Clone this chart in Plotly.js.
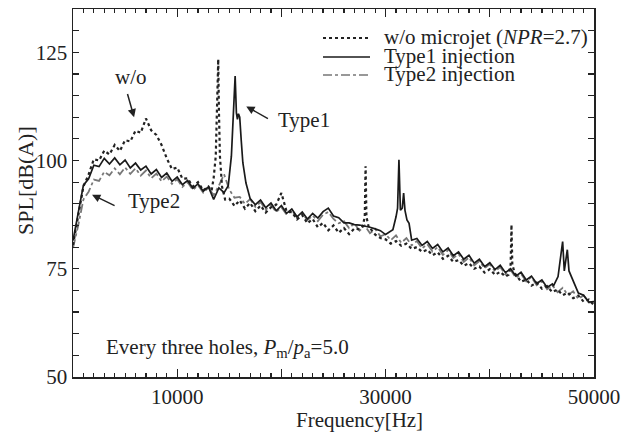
<!DOCTYPE html>
<html>
<head>
<meta charset="utf-8">
<script src="https://cdn.plot.ly/plotly-3.0.1.min.js"></script>
<style>html,body{margin:0;padding:0;background:#fff;}#chart{width:635px;height:437px;}</style>
</head>
<body>
<div id="chart"></div>
<script>
// Frequency grid [Hz]
const freq = [0,500,1000,1500,2000,2500,3000,3500,4000,4500,5000,5500,6000,6500,7000,7500,8000,8500,9000,9500,
10000,10500,11000,11500,12000,12500,13000,13500,14000,14500,15000,15500,16000,16500,17000,17500,18000,18500,19000,19500,
20000,20500,21000,21500,22000,22500,23000,23500,24000,24500,25000,25500,26000,26500,27000,27500,28000,28500,29000,29500,
30000,30500,31000,31500,32000,32500,33000,33500,34000,34500,35000,35500,36000,36500,37000,37500,38000,38500,39000,39500,
40000,40500,41000,41500,42000,42500,43000,43500,44000,44500,45000,45500,46000,46500,47000,47500,48000,48500,49000,49500,50000];

// w/o microjet (NPR=2.7)  SPL [dB(A)]
const splWo = [80.5,87.0,94.0,96.8,100.3,100.0,102.3,101.4,103.6,102.2,104.7,104.4,106.9,106.4,109.7,107.0,105.9,103.6,100.5,98.0,
98.4,95.8,95.9,94.0,95.0,93.1,94.0,93.0,93.0,91.5,91.2,89.5,90.8,88.9,90.2,88.3,89.6,88.0,89.2,89.8,
92.5,88.2,88.1,86.4,87.4,85.5,86.5,84.6,85.6,83.9,85.0,83.3,84.4,83.0,84.3,84.1,85.0,84.4,82.9,82.1,
81.8,80.8,81.4,80.3,80.8,79.6,80.0,78.9,79.4,78.1,78.8,77.3,78.0,76.6,77.0,75.7,76.3,75.0,75.5,74.1,
74.9,73.6,74.3,73.2,74.5,73.7,72.0,72.5,71.1,71.8,70.4,71.0,69.6,70.2,68.9,69.5,68.2,68.8,67.4,67.9,66.6];

// Type1 injection
const splT1 = [81.5,88.0,94.3,95.8,98.9,98.6,100.5,99.2,100.6,99.0,100.1,98.3,99.4,97.8,98.7,96.9,97.9,96.1,97.1,95.2,
96.2,94.4,95.4,93.6,94.6,92.9,93.9,91.0,93.7,92.6,94.0,94.0,94.0,94.0,91.2,89.8,90.9,89.1,90.2,88.4,
89.6,87.8,88.8,87.0,88.1,86.5,87.8,86.7,88.2,89.0,87.2,86.8,85.6,85.6,85.2,85.1,84.9,84.6,84.2,83.8,
82.9,83.8,84.0,84.0,84.0,81.6,82.0,80.4,81.3,79.7,80.6,78.9,79.8,78.0,78.9,77.2,78.1,76.3,77.2,75.5,
76.4,74.8,75.8,74.1,75.0,73.3,74.2,72.4,73.3,71.6,72.4,70.7,71.5,71.0,71.0,71.0,71.0,69.4,68.9,67.3,67.4];

// Type2 injection
const splT2 = [79.8,85.0,91.0,92.8,95.6,95.3,97.4,96.6,98.2,96.8,98.4,96.9,98.2,96.5,97.7,95.9,97.0,95.2,96.3,94.6,
95.7,93.9,95.0,93.2,94.3,92.6,93.7,92.0,94.2,96.8,93.3,91.4,91.6,90.0,91.1,89.3,90.4,88.6,89.8,88.1,
89.2,87.5,88.5,86.8,87.8,86.2,87.3,86.0,87.5,88.1,86.5,85.5,86.0,84.4,85.5,83.8,85.0,83.2,84.2,82.5,
83.0,81.6,82.7,81.0,82.1,80.4,81.4,79.7,80.7,79.0,80.0,78.2,79.3,77.5,78.4,76.6,77.6,75.8,76.8,75.1,
76.1,74.4,75.4,73.7,74.7,72.9,73.8,72.1,73.1,71.2,72.1,70.3,71.2,69.6,70.6,68.9,69.8,68.0,68.9,67.2,67.4];

// Tonal peaks (fine-resolution readings)
const woPeak1F = [13300,13500,13700,13850,13940,14000,14100,14300,14600];
const woPeak1V = [93.0,96.0,101.0,112.0,123.4,112.0,101.0,94.0,91.0];
const woPeak2F = [27800,28000,28080,28160,28400];
const woPeak2V = [84.8,87.0,98.7,87.0,84.4];
const woPeak3F = [41800,42000,42080,42160,42400];
const woPeak3V = [73.6,76.0,85.2,76.0,73.9];

const t1Peak1F = [14900,15200,15400,15560,15680,15780,15880,16000,16150,16300,16600,16900];
const t1Peak1V = [94.2,101.0,110.0,119.5,111.0,109.5,110.8,110.0,104.5,99.5,94.8,91.8];
const t1Peak2F = [30700,31000,31150,31280,31420,31600,31730,31860,32050,32250,32470];
const t1Peak2V = [84.0,87.0,89.0,100.2,88.5,89.0,92.5,88.5,86.3,85.5,81.8];
const t1Peak3F = [46100,46550,46990,47150,47440,47600,47950,48200,48500];
const t1Peak3V = [71.0,73.2,81.3,74.5,79.4,74.5,72.6,71.0,69.4];

// Unlabelled major x ticks
const xHiddenLabels = ['0', '20000', '40000'];

function merge(f, v, peaks) {
  const pts = [];
  for (let i = 0; i < f.length; i++) {
    let inside = false;
    for (const p of peaks) {
      if (f[i] >= Math.min(...p[0]) && f[i] <= Math.max(...p[0])) inside = true;
    }
    if (!inside) pts.push([f[i], v[i]]);
  }
  for (const p of peaks) for (let j = 0; j < p[0].length; j++) pts.push([p[0][j], p[1][j]]);
  pts.sort((a, b) => a[0] - b[0]);
  return {x: pts.map(p => p[0]), y: pts.map(p => p[1])};
}

const wo = merge(freq, splWo, [[woPeak1F, woPeak1V], [woPeak2F, woPeak2V], [woPeak3F, woPeak3V]]);
const t1 = merge(freq, splT1, [[t1Peak1F, t1Peak1V], [t1Peak2F, t1Peak2V], [t1Peak3F, t1Peak3V]]);
const t2 = merge(freq, splT2, []);

const FONT = 'Liberation Serif, Times New Roman, serif';
const INK = '#222';

const traces = [
  {x: t2.x, y: t2.y, type: 'scatter', mode: 'lines', name: 'Type2 injection',
   line: {color: '#777', width: 1.8, dash: 'dashdot'}},
  {x: wo.x, y: wo.y, type: 'scatter', mode: 'lines', name: 'w/o microjet (NPR=2.7)',
   line: {color: '#222', width: 2.2, dash: 'dot'}},
  {x: t1.x, y: t1.y, type: 'scatter', mode: 'lines', name: 'Type1 injection',
   line: {color: '#1a1a1a', width: 1.7}}
];

function px2x(p) { return (p - 73) / 521; }
function py2y(p) { return (377 - p) / 368; }

const annFont = {family: FONT, size: 21, color: INK};
const annotations = [
  {xref: 'paper', yref: 'paper', x: px2x(359), y: py2y(420), text: 'Frequency[Hz]', showarrow: false,
   font: annFont, xanchor: 'center', yanchor: 'middle'},
  {xref: 'paper', yref: 'paper', x: px2x(25), y: py2y(181), text: 'SPL[dB(A)]', showarrow: false,
   font: {family: FONT, size: 22, color: INK}, textangle: -90, xanchor: 'center', yanchor: 'middle'},
  {xref: 'x', yref: 'y', x: 5577, y: 119.2, text: 'w/o', showarrow: false, font: annFont},
  {xref: 'x', yref: 'y', x: 19520, y: 109.3, text: 'Type1', showarrow: false, font: annFont, xanchor: 'left'},
  {xref: 'x', yref: 'y', x: 5096, y: 90.7, text: 'Type2', showarrow: false, font: annFont, xanchor: 'left'},
  {xref: 'x', yref: 'y', x: 2980, y: 56.7, showarrow: false, font: annFont, xanchor: 'left',
   text: 'Every three holes, <i>P</i><sub>m</sub>/<i>p</i><sub>a</sub>=5.0'},
  {xref: 'x', yref: 'y', axref: 'x', ayref: 'y', x: 5865, y: 110.0, ax: 5190, ay: 115.7, text: '',
   showarrow: true, arrowhead: 2, arrowsize: 1.1, arrowwidth: 1.5, arrowcolor: INK},
  {xref: 'x', yref: 'y', axref: 'x', ayref: 'y', x: 16630, y: 112.5, ax: 18850, ay: 109.5, text: '',
   showarrow: true, arrowhead: 2, arrowsize: 1.1, arrowwidth: 1.5, arrowcolor: INK},
  {xref: 'x', yref: 'y', axref: 'x', ayref: 'y', x: 1827, y: 92.1, ax: 4135, ay: 89.4, text: '',
   showarrow: true, arrowhead: 2, arrowsize: 1.1, arrowwidth: 1.5, arrowcolor: INK},
  {xref: 'paper', yref: 'paper', x: px2x(382), y: py2y(37), text: 'w/o microjet (<i>NPR</i>=2.7)', showarrow: false,
   font: annFont, xanchor: 'left', yanchor: 'middle'},
  {xref: 'paper', yref: 'paper', x: px2x(382), y: py2y(56), text: 'Type1 injection', showarrow: false,
   font: annFont, xanchor: 'left', yanchor: 'middle'},
  {xref: 'paper', yref: 'paper', x: px2x(382), y: py2y(74), text: 'Type2 injection', showarrow: false,
   font: annFont, xanchor: 'left', yanchor: 'middle'}
];

const shapes = [
  {type: 'line', xref: 'paper', yref: 'paper', x0: px2x(323), x1: px2x(370), y0: py2y(38), y1: py2y(38),
   line: {color: '#222', width: 2, dash: 'dot'}},
  {type: 'line', xref: 'paper', yref: 'paper', x0: px2x(323), x1: px2x(370), y0: py2y(57), y1: py2y(57),
   line: {color: '#1a1a1a', width: 1.6}},
  {type: 'line', xref: 'paper', yref: 'paper', x0: px2x(323), x1: px2x(370), y0: py2y(75), y1: py2y(75),
   line: {color: '#777', width: 1.6, dash: 'dashdot'}}
];

const tickFont = {family: FONT, size: 21, color: INK};
const alias = {};
xHiddenLabels.forEach(k => { alias[k] = ' '; });

const layout = {
  width: 635, height: 437,
  margin: {l: 73, r: 41, t: 9, b: 60},
  paper_bgcolor: '#fff', plot_bgcolor: '#fff',
  showlegend: false,
  font: {family: FONT, size: 21, color: INK},
  xaxis: {
    range: [0, 50000], tickmode: 'linear', tick0: 0, dtick: 10000,
    tickformat: 'd', labelalias: alias,
    ticks: 'inside', ticklen: 8, tickwidth: 1.3, tickcolor: INK,
    minor: {tickmode: 'linear', tick0: 0, dtick: 1000, ticks: 'inside', ticklen: 4, tickwidth: 1.2, tickcolor: INK, showgrid: false},
    showline: true, linecolor: INK, linewidth: 1.5, mirror: 'ticks',
    showgrid: false, zeroline: false,
    tickfont: tickFont
  },
  yaxis: {
    range: [50, 135], tickmode: 'linear', tick0: 50, dtick: 25,
    ticks: 'inside', ticklen: 6, tickwidth: 1.3, tickcolor: INK,
    minor: {tickmode: 'linear', tick0: 50, dtick: 5, ticks: 'inside', ticklen: 6, tickwidth: 1.2, tickcolor: INK, showgrid: false},
    showline: true, linecolor: INK, linewidth: 1.5, mirror: 'ticks',
    showgrid: false, zeroline: false,
    tickfont: tickFont
  },
  annotations: annotations,
  shapes: shapes
};

Plotly.newPlot('chart', traces, layout, {displayModeBar: false, staticPlot: true});
</script>
</body>
</html>
